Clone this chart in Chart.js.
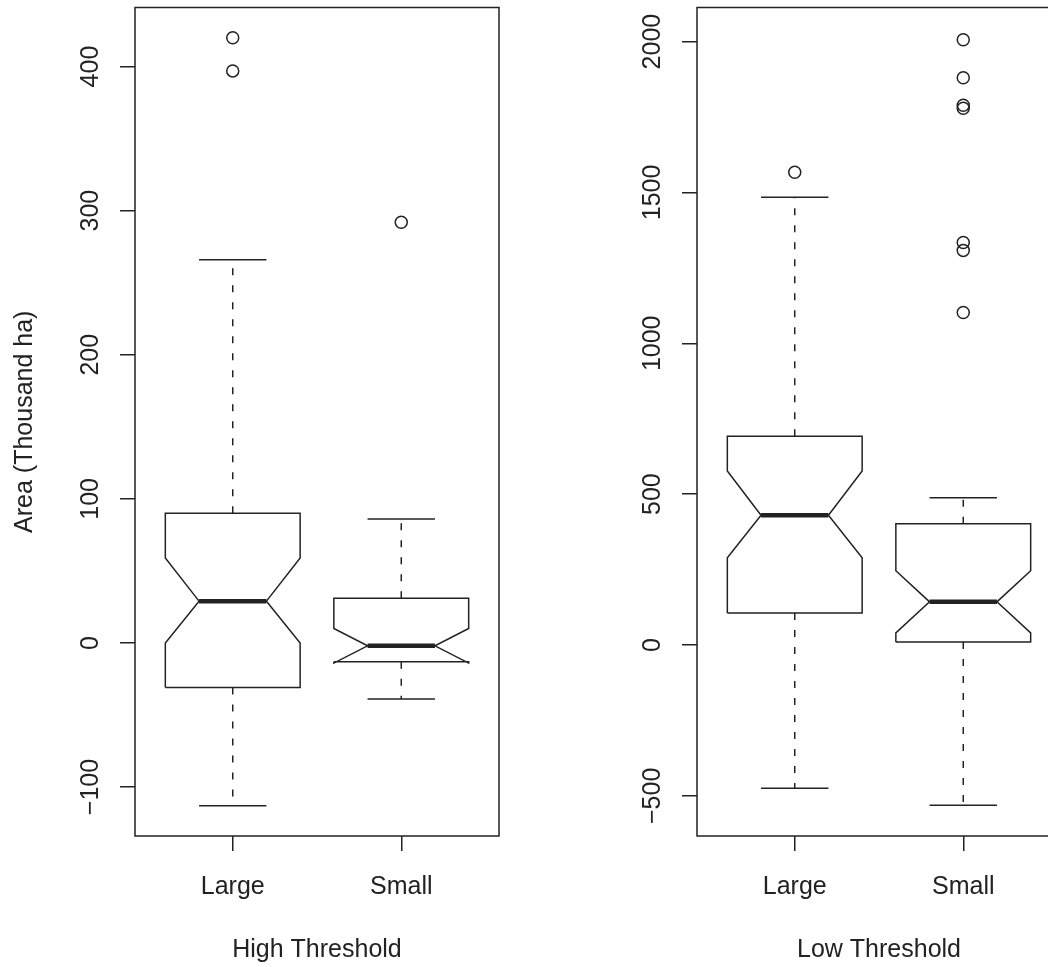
<!DOCTYPE html>
<html>
<head>
<meta charset="utf-8">
<script src="https://cdn.jsdelivr.net/npm/chart.js@4/dist/chart.umd.min.js"></script>
<style>
  html, body { margin: 0; padding: 0; background: #fff; overflow: hidden; }
  #left-wrap { position: absolute; left: 0; top: 0; width: 530px; height: 967px; }
  #right-wrap { position: absolute; left: 530px; top: 0; width: 560px; height: 967px; }
</style>
</head>
<body>
<div id="left-wrap"><canvas id="chart-high"></canvas></div>
<div id="right-wrap"><canvas id="chart-low"></canvas></div>
<script>
'use strict';

// Categories
const groups = ['Large', 'Small'];

// High threshold (left panel), one value per group
const highLowWhisker = [-113, -39];
const highQ1 = [-31, -13];
const highNotchLo = [0, -14];
const highMedian = [29, -2];
const highNotchHi = [59, 10];
const highQ3 = [90, 31];
const highUpWhisker = [266, 86];
const highOutliers = [[420, 397], [292]];
const highTicks = [-100, 0, 100, 200, 300, 400];
const highRange = [-134, 441];

// Low threshold (right panel)
const lowLowWhisker = [-475, -531];
const lowQ1 = [106, 10];
const lowNotchLo = [289, 40];
const lowMedian = [430, 143];
const lowNotchHi = [577, 246];
const lowQ3 = [692, 402];
const lowUpWhisker = [1484, 488];
const lowOutliers = [[1567], [2006, 1880, 1789, 1779, 1334, 1308, 1102]];
const lowTicks = [-500, 0, 500, 1000, 1500, 2000];
const lowRange = [-633, 2113];

// shape constants (x units, one unit between groups)
const halfBox = 0.4;
const halfNotch = 0.2;
const halfCap = 0.2;

const ink = '#222';
const fontFamily = '"Liberation Sans", Arial, Helvetica, sans-serif';

function lineSet(points, width, dash) {
  return {
    data: points,
    showLine: true,
    fill: false,
    tension: 0,
    pointRadius: 0,
    borderColor: ink,
    borderWidth: width,
    borderDash: dash,
    borderCapStyle: 'butt'
  };
}

function boxDatasets(lowW, q1, nLo, med, nHi, q3, upW, outs) {
  let sets = [];
  let outPoints = [];
  for (let i = 0; i < groups.length; i++) {
    let x = i + 1;
    // notched box outline
    sets.push(lineSet([
      { x: x - halfBox, y: q1[i] },
      { x: x + halfBox, y: q1[i] },
      { x: x + halfBox, y: nLo[i] },
      { x: x + halfNotch, y: med[i] },
      { x: x + halfBox, y: nHi[i] },
      { x: x + halfBox, y: q3[i] },
      { x: x - halfBox, y: q3[i] },
      { x: x - halfBox, y: nHi[i] },
      { x: x - halfNotch, y: med[i] },
      { x: x - halfBox, y: nLo[i] },
      { x: x - halfBox, y: q1[i] }
    ], 1.5, []));
    // median
    sets.push(lineSet([{ x: x - halfNotch, y: med[i] }, { x: x + halfNotch, y: med[i] }], 4.5, []));
    // whiskers
    sets.push(lineSet([{ x: x, y: q3[i] }, { x: x, y: upW[i] }], 1.5, [7, 10]));
    sets.push(lineSet([{ x: x, y: q1[i] }, { x: x, y: lowW[i] }], 1.5, [7, 10]));
    // staples
    sets.push(lineSet([{ x: x - halfCap, y: upW[i] }, { x: x + halfCap, y: upW[i] }], 1.5, []));
    sets.push(lineSet([{ x: x - halfCap, y: lowW[i] }, { x: x + halfCap, y: lowW[i] }], 1.5, []));
    for (let j = 0; j < outs[i].length; j++) {
      outPoints.push({ x: x, y: outs[i][j] });
    }
  }
  sets.push({
    data: outPoints,
    showLine: false,
    pointStyle: 'circle',
    pointRadius: 6,
    pointBorderWidth: 1.5,
    pointBorderColor: ink,
    pointBackgroundColor: 'rgba(0,0,0,0)'
  });
  return sets;
}

// draws the full box round the plot region
const framePlugin = {
  id: 'frame',
  afterDraw(chart) {
    const a = chart.chartArea;
    const c = chart.ctx;
    c.save();
    c.strokeStyle = ink;
    c.lineWidth = 1.5;
    c.strokeRect(a.left, a.top, a.right - a.left, a.bottom - a.top);
    c.restore();
  }
};

function minusLabel(v) {
  return v < 0 ? '\u2212' + Math.abs(v) : String(v);
}

function makeChart(canvasId, datasets, yRange, yTicks, xTitle, yTitle, yWidth, padRight) {
  return new Chart(document.getElementById(canvasId), {
    type: 'scatter',
    data: { datasets: datasets },
    plugins: [framePlugin],
    options: {
      responsive: true,
      maintainAspectRatio: false,
      animation: false,
      events: [],
      layout: { padding: { top: 7, right: padRight, left: 0, bottom: 0 } },
      plugins: { legend: { display: false }, tooltip: { enabled: false } },
      scales: {
        x: {
          type: 'linear',
          min: 0.42,
          max: 2.58,
          afterBuildTicks: s => { s.ticks = groups.map((g, i) => ({ value: i + 1 })); },
          afterFit: s => { s.height = 131; s.paddingLeft = 0; s.paddingRight = 0; },
          border: { display: false },
          grid: { drawOnChartArea: false, drawTicks: true, tickLength: 15, color: ink, lineWidth: 1.5 },
          ticks: {
            padding: 21,
            color: ink,
            font: { family: fontFamily, size: 25 },
            maxRotation: 0,
            callback: v => groups[v - 1]
          },
          title: {
            display: true,
            text: xTitle,
            color: ink,
            font: { family: fontFamily, size: 25 },
            padding: { top: 0, bottom: 2 }
          }
        },
        y: {
          type: 'linear',
          min: yRange[0],
          max: yRange[1],
          afterBuildTicks: s => { s.ticks = yTicks.map(v => ({ value: v })); },
          afterFit: s => { s.width = yWidth; s.paddingTop = 0; s.paddingBottom = 0; },
          border: { display: false },
          grid: { drawOnChartArea: false, drawTicks: true, tickLength: 15, color: ink, lineWidth: 1.5 },
          ticks: {
            padding: 1,
            color: ink,
            minRotation: 90,
            maxRotation: 90,
            crossAlign: 'center',
            font: { family: fontFamily, size: 25 },
            callback: minusLabel
          },
          title: {
            display: yTitle !== '',
            text: yTitle,
            color: ink,
            font: { family: fontFamily, size: 25 },
            padding: { top: 10, bottom: 0 }
          }
        }
      }
    }
  });
}

makeChart('chart-high',
  boxDatasets(highLowWhisker, highQ1, highNotchLo, highMedian, highNotchHi, highQ3, highUpWhisker, highOutliers),
  highRange, highTicks, 'High Threshold', 'Area (Thousand ha)', 135, 31);

makeChart('chart-low',
  boxDatasets(lowLowWhisker, lowQ1, lowNotchLo, lowMedian, lowNotchHi, lowQ3, lowUpWhisker, lowOutliers),
  lowRange, lowTicks, 'Low Threshold', '', 167, 29);
</script>
</body>
</html>
